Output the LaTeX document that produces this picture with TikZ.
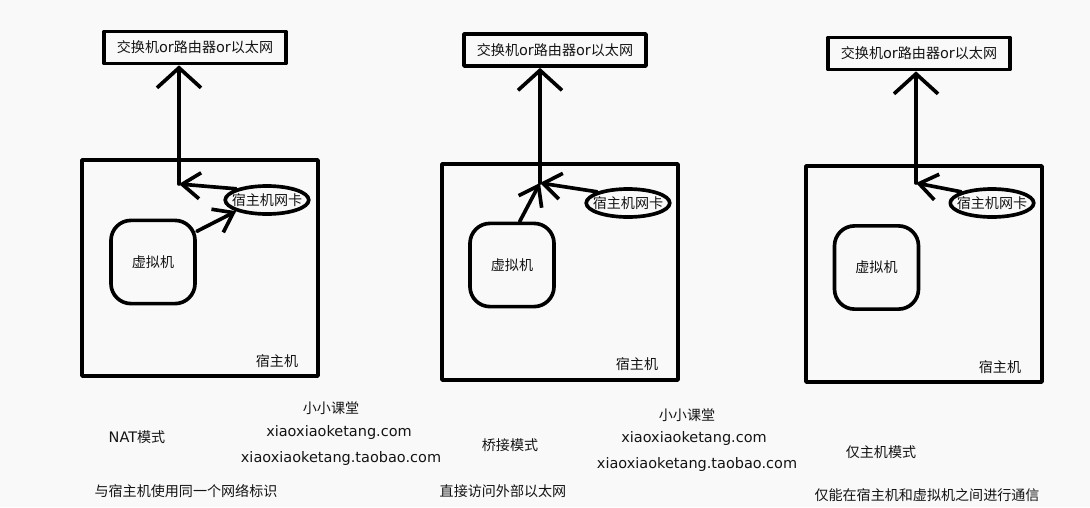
\documentclass[tikz,border=0pt]{standalone}
\usepackage{fontspec}
\setmainfont{DejaVu Sans}[Scale=1.03]
\newfontfamily\cjk{Noto Sans CJK SC}
\usepackage{tikz}
\usetikzlibrary{arrows.meta, shapes.geometric, calc}
\definecolor{papel}{RGB}{249,249,249}
\definecolor{tinta}{RGB}{20,20,20}
\tikzset{>=stealth}
\tikzset{
  pen/.style = {line width=2.6pt, line cap=round, line join=round},
  netbox/.style = {pen, draw, rectangle, minimum width=4.55cm, minimum height=0.8cm, inner sep=0pt, text=tinta},
  hostbox/.style = {pen, draw, rectangle, minimum width=5.9cm, minimum height=5.4cm},
  vmbox/.style = {pen, draw, rectangle, rounded corners=0.5cm, minimum width=2.1cm, minimum height=2.08cm, text=tinta},
  nicbox/.style = {pen, draw, ellipse, inner xsep=-4pt, inner ysep=0pt, minimum height=0.7cm, text=tinta},
  uparrow/.style = {pen, -{Straight Barb[length=5mm,width=11mm]}},
  sidearrow/.style = {pen, -{Straight Barb[length=4.5mm,width=6.5mm]}},
  txt/.style = {text=tinta, inner sep=0pt},
}
\newcommand{\netname}{{\cjk 交换机}or{\cjk 路由器}or{\cjk 以太网}}

\begin{document}
\begin{tikzpicture}[x=0.025cm, y=-0.025cm]
	\fill[papel] (0,0) rectangle (1090,507);
	\useasboundingbox (0,0) rectangle (1090,507);

	% NAT
	\node[netbox] (sw1) at (195,47.5) {\netname};
	\node[hostbox] (host1) at (200,268) {};
	\node[vmbox] (vm1) at (153,262) {\cjk 虚拟机};
	\node[nicbox] (nic1) at (267,200) {\cjk 宿主机网卡};
	\node[txt] (lbl1) at (277,361) {\cjk 宿主机};
	\coordinate (c1) at (179,184);
	\draw[sidearrow] (nic1.north west) -- (c1);
	\draw[uparrow] (c1) -- (c1 |- sw1.south);
	\draw[sidearrow] (vm1.35) -- (nic1.south west);
	\node[txt] (mode1) at (137,437) {NAT{\cjk 模式}};
	\node[txt] (desc1) at (186,491) {\cjk 与宿主机使用同一个网络标识};
	\node[txt] (brand1) at (331,408) {\cjk 小小课堂};
	\node[txt] (site1) at (339,432) {xiaoxiaoketang.com};
	\node[txt] (shop1) at (341,458) {xiaoxiaoketang.taobao.com};

	% bridge
	\node[netbox] (sw2) at (555,50) {\netname};
	\node[hostbox] (host2) at (560,272) {};
	\node[vmbox] (vm2) at (512,265) {\cjk 虚拟机};
	\node[nicbox] (nic2) at (628,203) {\cjk 宿主机网卡};
	\node[txt] (lbl2) at (637,364) {\cjk 宿主机};
	\coordinate (j2) at (540,183);
	\draw[sidearrow] (nic2.north west) -- (j2);
	\draw[sidearrow] (vm2.80) -- (j2);
	\draw[uparrow] (j2) -- (j2 |- sw2.south);
	\node[txt] (mode2) at (510,445) {\cjk 桥接模式};
	\node[txt] (desc2) at (503,491) {\cjk 直接访问外部以太网};
	\node[txt] (brand2) at (687,415) {\cjk 小小课堂};
	\node[txt] (site2) at (694,438) {xiaoxiaoketang.com};
	\node[txt] (shop2) at (697,464) {xiaoxiaoketang.taobao.com};

	% host-only
	\node[netbox] (sw3) at (919,53.5) {\netname};
	\node[hostbox] (host3) at (924,274) {};
	\node[vmbox] (vm3) at (876.5,267.5) {\cjk 虚拟机};
	\node[nicbox] (nic3) at (992,203) {\cjk 宿主机网卡};
	\node[txt] (lbl3) at (1000,367) {\cjk 宿主机};
	\coordinate (c3) at (916,183);
	\draw[sidearrow] (nic3.north west) -- (c3);
	\draw[uparrow] (c3) -- (c3 |- sw3.south);
	\node[txt] (mode3) at (881,452) {\cjk 仅主机模式};
	\node[txt] (desc3) at (927,495) {\cjk 仅能在宿主机和虚拟机之间进行通信};
\end{tikzpicture}
\end{document}
